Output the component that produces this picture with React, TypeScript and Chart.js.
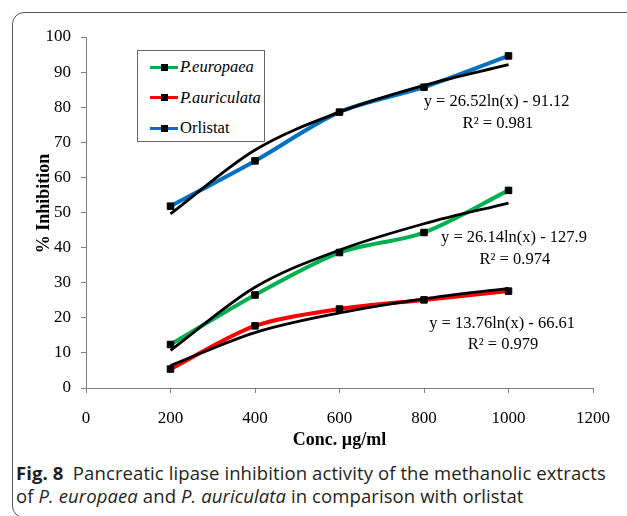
import React, { useEffect, useRef } from "react";
import { Chart, registerables } from "chart.js";

Chart.register(...registerables);

// ---------- data ----------
const concentrations = [200, 400, 600, 800, 1000];
const europaeaValues = [12.4, 26.5, 38.6, 44.3, 56.3];
const auriculataValues = [5.4, 17.7, 22.5, 25.1, 27.6];
const orlistatValues = [51.8, 64.7, 78.6, 85.7, 94.6];
const europaeaTrend = [10.7, 28.7, 39.3, 46.8, 52.7];
const auriculataTrend = [6.4, 15.8, 21.4, 25.4, 28.4];
const orlistatTrend = [49.6, 67.8, 78.6, 86.2, 92.1];
const xTickValues = [0, 200, 400, 600, 800, 1000, 1200];
const yTickValues = [0, 10, 20, 30, 40, 50, 60, 70, 80, 90, 100];
const seriesNames = ["P.europaea", "P.auriculata", "Orlistat"];
const equationTexts = [
  "y = 26.14ln(x) - 127.9",
  "y = 13.76ln(x) - 66.61",
  "y = 26.52ln(x) - 91.12",
];
const rSquaredTexts = ["R\u00B2 = 0.974", "R\u00B2 = 0.979", "R\u00B2 = 0.981"];
const xTitle = "Conc. \u00B5g/ml";
const yTitle = "% Inhibition";

// ---------- styling / layout (not data) ----------
const seriesColors = ["#00B050", "#FF0000", "#0070C0"];
const seriesItalic = [true, true, false];
// label anchor positions in data units [x, y] for equation and R² lines
const equationAnchors = [
  [1013, 42.8],
  [985, 18.2],
  [972, 81.5],
];
const rSquaredAnchors = [
  [1015, 36.6],
  [987, 12.4],
  [975, 75.3],
];

const SERIF = "'Liberation Serif', 'Times New Roman', serif";
const AXIS_COLOR = "#7f7f7f";

const equationPlugin = {
  id: "equationLabels",
  afterDatasetsDraw(chart: any) {
    const { ctx, scales } = chart;
    const xs = scales.x;
    const ys = scales.y;
    ctx.save();
    ctx.fillStyle = "#000";
    ctx.font = `16.5px ${SERIF}`;
    ctx.textAlign = "center";
    ctx.textBaseline = "middle";
    equationTexts.forEach((t, i) => {
      const [ex, ey] = equationAnchors[i];
      ctx.fillText(t, xs.getPixelForValue(ex), ys.getPixelForValue(ey));
      const [rx, ry] = rSquaredAnchors[i];
      ctx.fillText(rSquaredTexts[i], xs.getPixelForValue(rx), ys.getPixelForValue(ry));
    });
    ctx.restore();
  },
};

const toPoints = (vals: number[]) => concentrations.map((c, i) => ({ x: c, y: vals[i] }));

export default function App() {
  const canvasRef = useRef<HTMLCanvasElement | null>(null);

  useEffect(() => {
    if (!canvasRef.current) return;
    const valueSets = [europaeaValues, auriculataValues, orlistatValues];
    const trendSets = [europaeaTrend, auriculataTrend, orlistatTrend];

    const lineSets = valueSets.map((vals, i) => ({
      label: seriesNames[i],
      data: toPoints(vals),
      borderColor: seriesColors[i],
      backgroundColor: seriesColors[i],
      borderWidth: 4,
      pointRadius: 0,
      tension: 0.3,
      fill: false,
      order: 3,
      clip: false,
    }));
    const trendLines = trendSets.map((vals, i) => ({
      label: seriesNames[i] + " trend",
      data: toPoints(vals),
      borderColor: "#000",
      borderWidth: 2.8,
      pointRadius: 0,
      cubicInterpolationMode: "monotone",
      fill: false,
      order: 2,
      clip: false,
    }));
    const markers = valueSets.map((vals, i) => ({
      label: seriesNames[i] + " markers",
      data: toPoints(vals),
      showLine: false,
      pointStyle: "rect",
      pointRadius: 4.6,
      pointBackgroundColor: "#000",
      pointBorderColor: "#000",
      pointBorderWidth: 1,
      order: 1,
      clip: false,
    }));

    const chart = new Chart(canvasRef.current, {
      type: "line",
      data: { datasets: [...lineSets, ...trendLines, ...markers] as any },
      options: {
        animation: false,
        responsive: false,
        maintainAspectRatio: false,
        devicePixelRatio: 1,
        layout: { padding: { left: 0, top: 37, right: 34, bottom: 0 } },
        plugins: { legend: { display: false }, tooltip: { enabled: false } },
        scales: {
          x: {
            type: "linear",
            min: 0,
            max: 1200,
            afterBuildTicks: (s: any) => {
              s.ticks = xTickValues.map((v) => ({ value: v }));
            },
            afterFit: (s: any) => {
              s.height = 72;
            },
            grid: { drawOnChartArea: false, drawTicks: true, tickLength: 5, color: AXIS_COLOR },
            border: { display: true, color: AXIS_COLOR, width: 1 },
            ticks: {
              color: "#000",
              font: { family: SERIF, size: 17 },
              padding: 15,
              maxRotation: 0,
              autoSkip: false,
              callback: (v: any) => String(v),
            },
            title: {
              display: true,
              text: xTitle,
              color: "#000",
              font: { family: SERIF, size: 18, weight: "bold" },
              padding: { top: 0, bottom: 9 },
            },
          },
          y: {
            type: "linear",
            min: 0,
            max: 100,
            afterBuildTicks: (s: any) => {
              s.ticks = yTickValues.map((v) => ({ value: v }));
            },
            afterFit: (s: any) => {
              s.width = 86;
            },
            grid: { drawOnChartArea: false, drawTicks: true, tickLength: 5, color: AXIS_COLOR },
            border: { display: true, color: AXIS_COLOR, width: 1 },
            ticks: {
              color: "#000",
              font: { family: SERIF, size: 17 },
              padding: 10,
              autoSkip: false,
              callback: (v: any) => String(v),
            },
            title: {
              display: true,
              text: "\u2002\u2002" + yTitle,
              color: "#000",
              font: { family: SERIF, size: 18, weight: "bold" },
              padding: { top: 34, bottom: 0 },
            },
          },
        },
      } as any,
      plugins: [equationPlugin],
    });
    return () => chart.destroy();
  }, []);

  return (
    <div
      style={{
        position: "fixed",
        left: 0,
        top: 0,
        width: 627,
        height: 516,
        overflow: "hidden",
        background: "#fff",
      }}
    >
      <div
        style={{
          position: "absolute",
          left: 12,
          top: 12,
          width: 700,
          height: 506,
          border: "1px solid #5a5a5a",
          borderRadius: 12,
          boxSizing: "border-box",
        }}
      />
      <canvas
        ref={canvasRef}
        width={627}
        height={460}
        style={{ position: "absolute", left: 0, top: 0, width: 627, height: 460 }}
      />
      <div
        style={{
          position: "absolute",
          left: 137,
          top: 50,
          width: 128,
          height: 92,
          boxSizing: "border-box",
          border: "1px solid #666",
          background: "#fff",
          fontFamily: SERIF,
          fontSize: 16.5,
          color: "#000",
        }}
      >
        {seriesNames.map((name, i) => (
          <div
            key={name}
            style={{
              position: "absolute",
              left: 12,
              top: 6 + i * 30.5,
              height: 20,
              display: "flex",
              alignItems: "center",
              whiteSpace: "nowrap",
            }}
          >
            <div style={{ position: "relative", width: 28, height: 20, marginRight: 2 }}>
              <div
                style={{
                  position: "absolute",
                  left: 0,
                  top: 8.5,
                  width: 28,
                  height: 3,
                  background: seriesColors[i],
                }}
              />
              <div
                style={{
                  position: "absolute",
                  left: 10.5,
                  top: 6.5,
                  width: 7,
                  height: 7,
                  background: "#000",
                }}
              />
            </div>
            <span style={{ fontStyle: seriesItalic[i] ? "italic" : "normal" }}>{name}</span>
          </div>
        ))}
      </div>
      <div
        style={{
          position: "absolute",
          left: 16,
          top: 461,
          width: 640,
          fontFamily: "'Open Sans', 'Noto Sans', sans-serif",
          fontSize: 18.5,
          letterSpacing: 0.1,
          lineHeight: "23px",
          color: "#231f20",
          whiteSpace: "nowrap",
        }}
      >
        <div>
          <b>Fig. 8</b>
          {"\u2002Pancreatic lipase inhibition activity of the methanolic extracts"}
        </div>
        <div>
          of <i>P. europaea</i> and <i>P. auriculata</i> in comparison with orlistat
        </div>
      </div>
    </div>
  );
}
